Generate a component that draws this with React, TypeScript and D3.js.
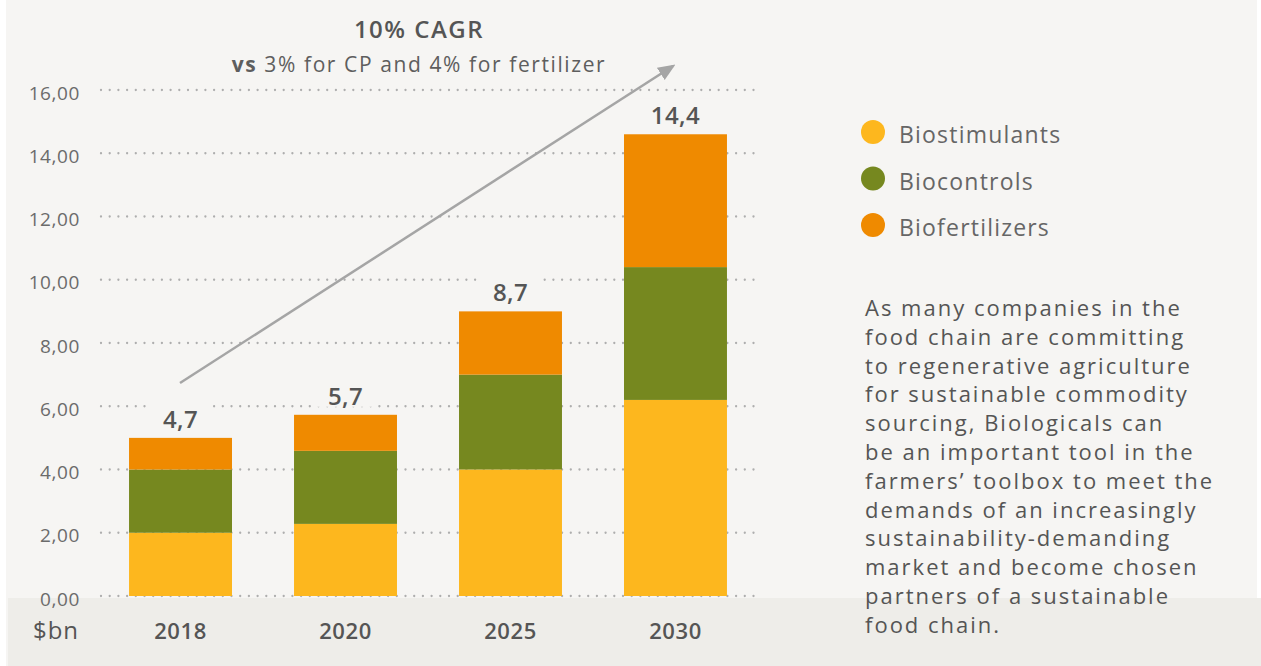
import React from "react";
import * as d3 from "d3";

// chart values
const years = ["2018", "2020", "2025", "2030"];
const biostimulants = [2.0, 2.28, 4.0, 6.2];
const biocontrols = [2.0, 2.31, 3.0, 4.2];
const biofertilizers = [1.0, 1.14, 2.0, 4.2];
const totalLabels = ["4,7", "5,7", "8,7", "14,4"];
const yTicks = [0, 2, 4, 6, 8, 10, 12, 14, 16];
const seriesNames = ["Biostimulants", "Biocontrols", "Biofertilizers"];
const seriesColors = ["#fdb71e", "#76881f", "#ef8a00"];
const noteLines = [
  "As many companies in the",
  "food chain are committing",
  "to regenerative agriculture",
  "for sustainable commodity",
  "sourcing, Biologicals can",
  "be an important tool in the",
  "farmers\u2019 toolbox to meet the",
  "demands of an increasingly",
  "sustainability-demanding",
  "market and become chosen",
  "partners of a sustainable",
  "food chain.",
];

const W = 1261;
const H = 666;
const FONT = "'Open Sans', sans-serif";
const PANEL = "#f6f5f3";

export default function App() {
  const rows = years.map((y, i) => ({
    year: y,
    Biostimulants: biostimulants[i],
    Biocontrols: biocontrols[i],
    Biofertilizers: biofertilizers[i],
  }));
  const stacked = d3.stack<any>().keys(seriesNames)(rows);

  const x = d3.scaleBand().domain(years).range([67, 789]).paddingInner(0.376).paddingOuter(0.376);
  const y = d3.scaleLinear().domain([0, 16]).range([596, 90]);

  const tops = years.map((_, i) => y(stacked[stacked.length - 1][i][1]));

  return (
    <svg width={W} height={H} style={{ position: "absolute", left: 0, top: 0 }}>
      <defs>
        <marker id="arrowHead" viewBox="0 0 12 10" refX="10" refY="5" markerWidth="7" markerHeight="6" orient="auto">
          <path d="M0,0 L12,5 L0,10 z" fill="#a5a5a5" />
        </marker>
      </defs>
      <rect x={0} y={0} width={W} height={H} fill="#ffffff" />
      <rect x={6} y={0} width={1251} height={H} fill={PANEL} />
      <rect x={8} y={598} width={W - 8} height={H - 598} fill="#eeede9" />

      {/* grid lines */}
      {yTicks.map((t) => (
        <g key={t}>
          <line x1={101} x2={755} y1={y(t)} y2={y(t)} stroke="#aeaeae" strokeWidth={2.3}
            strokeDasharray="0 8.7" strokeLinecap="round" />
          <text x={80} y={y(t)} dy="0.5em" textAnchor="end" fontFamily={FONT} fontSize={19}
            letterSpacing={0.6} fill="#6b6b6b">
            {t.toFixed(2).replace(".", ",")}
          </text>
        </g>
      ))}

      {/* bars */}
      {stacked.map((s, si) => (
        <g key={s.key} fill={seriesColors[si]}>
          {s.map((d, i) => (
            <rect key={i} x={x(years[i])} y={y(d[1])} width={x.bandwidth()} height={y(d[0]) - y(d[1])} />
          ))}
        </g>
      ))}

      {/* total labels */}
      {years.map((yr, i) => {
        const cx = (x(yr) as number) + x.bandwidth() / 2;
        const tw = totalLabels[i].length * 13 + 14;
        return (
          <g key={yr}>
            <rect x={cx - tw / 2 - 4} y={tops[i] - 36} width={tw + 8} height={28} fill={PANEL} />
            <text x={cx} y={tops[i] - 10} textAnchor="middle" fontFamily={FONT} fontSize={24}
              fontWeight={600} letterSpacing={0.4} fill="#555555">
              {totalLabels[i]}
            </text>
          </g>
        );
      })}

      {/* growth arrow */}
      <line x1={180} y1={383} x2={673} y2={66} stroke="#a5a5a5" strokeWidth={2.5} markerEnd="url(#arrowHead)" />

      <text x={419} y={38} textAnchor="middle" fontFamily={FONT} fontSize={24} fontWeight={600}
        letterSpacing={1.5} fill="#555555">
        10% CAGR
      </text>
      <text x={419} y={72} textAnchor="middle" fontFamily={FONT} fontSize={21} letterSpacing={1.6} fill="#5e5e5e">
        <tspan fontWeight={700}>vs</tspan> 3% for CP and 4% for fertilizer
      </text>

      {/* x axis labels */}
      <text x={56} y={639} textAnchor="middle" fontFamily={FONT} fontSize={24} letterSpacing={1}
        fill="#555555">$bn</text>
      {years.map((yr) => (
        <text key={yr} x={(x(yr) as number) + x.bandwidth() / 2} y={639} textAnchor="middle"
          fontFamily={FONT} fontSize={22} fontWeight={600} letterSpacing={0.6} fill="#555555">
          {yr}
        </text>
      ))}

      {/* legend */}
      {seriesNames.map((n, i) => (
        <g key={n} transform={`translate(873, ${132 + i * 46.5})`}>
          <circle r={12} fill={seriesColors[i]} />
          <text x={26} y={11} fontFamily={FONT} fontSize={23} letterSpacing={1.2} fill="#666666">{n}</text>
        </g>
      ))}

      {/* side note */}
      <text fontFamily={FONT} fontSize={22} letterSpacing={2.0} fill="#555555">
        {noteLines.map((l, i) => (
          <tspan key={i} x={865} y={316 + i * 28.8}>{l}</tspan>
        ))}
      </text>
    </svg>
  );
}
